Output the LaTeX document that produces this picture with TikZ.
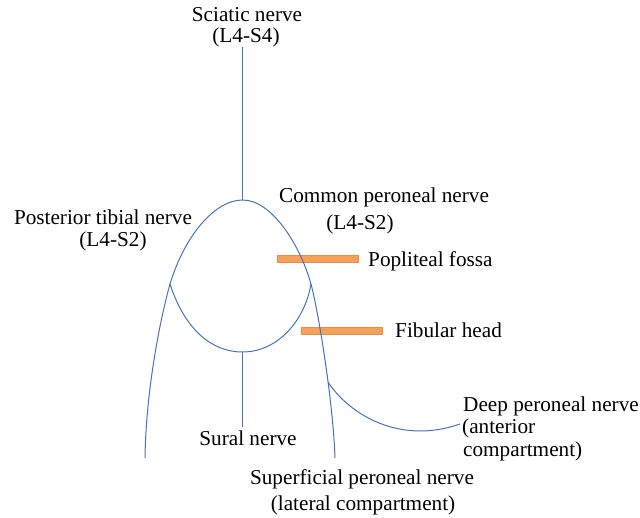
\documentclass[tikz,border=0pt]{standalone}
\usepackage{fontspec}
\setmainfont{Liberation Serif}
\definecolor{nerveblue}{RGB}{68,114,196}
\definecolor{barfill}{RGB}{244,162,89}
\definecolor{barline}{RGB}{237,140,70}
\begin{document}
\begin{tikzpicture}[x=1bp,y=-1bp,
  nerve/.style={draw=nerveblue, line width=1bp},
  lbl/.style={font=\fontsize{21.3}{22}\selectfont, inner sep=0pt, text=black},
  bar/.style={fill=barfill, draw=barline, line width=0.6bp, minimum width=81bp, minimum height=7bp, inner sep=0pt}]
\useasboundingbox (0,0) rectangle (640,518);
% bars
\node[bar] (popbar) at (318,259) {};
\node[bar] (fibbar) at (342,331) {};
% key points
\coordinate (top) at (242.5,47);
\coordinate (apex) at (242.5,200);
\coordinate (lj) at (170,284);
\coordinate (rj) at (311,284);
\coordinate (lend) at (145,458);
\coordinate (rend) at (335,458);
\coordinate (bot) at (242.5,352);
\coordinate (sural) at (242.5,427);
\coordinate (deepend) at (460,424);
% nerves
\draw[nerve] (top) -- (apex);
\draw[nerve] (apex) .. controls (215,200) and (185,235) .. (lj) .. controls (160,320) and (146,390) .. (lend);
\draw[nerve] (apex) .. controls (272,200) and (300,245) .. (rj) .. controls (318,310) and (333,400) .. coordinate[pos=0.615] (dj) (rend);
\draw[nerve] (lj) .. controls (185,330) and (212,352) .. (bot) .. controls (278,352) and (305,320) .. (rj);
\draw[nerve] (bot) -- (sural);
\draw[nerve] (dj) .. controls (350,415) and (400,445) .. (deepend);
% labels
\node[lbl, anchor=base] (sciatic) at (247,22) {Sciatic nerve};
\node[lbl, anchor=base] (sciaticR) at (246,43) {(L4-S4)};
\node[lbl, anchor=base] (ptn) at (103,225) {Posterior tibial nerve};
\node[lbl, anchor=base] (ptnR) at (113,247) {(L4-S2)};
\node[lbl, anchor=base west] (cpn) at (279,203) {Common peroneal nerve};
\node[lbl, anchor=base] (cpnR) at (360,230) {(L4-S2)};
\node[lbl, anchor=base west] (pop) at (368,266) {Popliteal fossa};
\node[lbl, anchor=base west] (fib) at (395,337) {Fibular head};
\node[lbl, anchor=base west] (deep1) at (463,411) {Deep peroneal nerve};
\node[lbl, anchor=base west] (deep2) at (462,433) {(anterior};
\node[lbl, anchor=base west] (deep3) at (463,456) {compartment)};
\node[lbl, anchor=base] (sur) at (248,445) {Sural nerve};
\node[lbl, anchor=base] (sup1) at (362,484) {Superficial peroneal nerve};
\node[lbl, anchor=base] (sup2) at (363,510) {(lateral compartment)};
\end{tikzpicture}
\end{document}
